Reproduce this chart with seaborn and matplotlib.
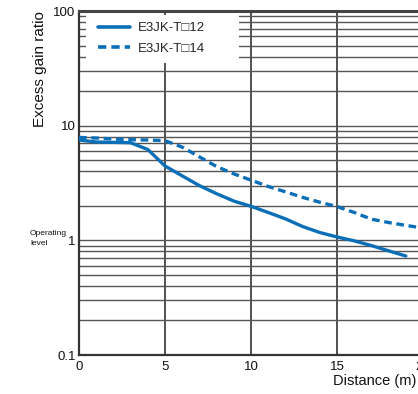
import matplotlib
matplotlib.use("Agg")
import matplotlib.pyplot as plt
import matplotlib.ticker as mticker
from matplotlib.patches import Rectangle
import seaborn as sns
import pandas as pd

# ---- data ----
series_names = ["E3JK-T\u25a112", "E3JK-T\u25a114"]
dist_12 = [0, 1, 2, 3, 4, 5, 6, 7, 8, 9, 10, 11, 12, 13, 14, 15, 16, 17, 18, 19]
gain_12 = [7.5, 7.2, 7.15, 7.1, 6.2, 4.45, 3.65, 3.0, 2.55, 2.2, 1.98, 1.75, 1.54,
           1.32, 1.17, 1.07, 0.99, 0.9, 0.81, 0.73]
dist_14 = [0, 1, 2, 3, 4, 5, 6, 7, 8, 9, 10, 11, 12, 13, 14, 15, 16, 17, 18, 19, 20, 21]
gain_14 = [7.9, 7.8, 7.65, 7.55, 7.5, 7.4, 6.5, 5.35, 4.4, 3.8, 3.35, 2.95, 2.65,
           2.37, 2.15, 1.97, 1.75, 1.53, 1.43, 1.35, 1.28, 1.22]
y_ticks = [0.1, 1, 10, 100]
y_tick_labels = ["0.1", "1", "10", "100"]
x_ticks = [0, 5, 10, 15, 20, 25]
x_tick_labels = ["0", "5", "10", "15", "20", "25"]

df = pd.concat([
    pd.DataFrame({"Distance": dist_12, "Gain": gain_12, "Series": series_names[0]}),
    pd.DataFrame({"Distance": dist_14, "Gain": gain_14, "Series": series_names[1]}),
], ignore_index=True)

sns.set_style("white")
plt.rcParams["font.family"] = ["Liberation Sans", "DejaVu Sans"]

W, H = 418, 394
fig = plt.figure(figsize=(W / 100, H / 100), dpi=100)
ax_left, ax_top, ax_bottom = 79, 11, 355
px_per_unit = 17.2
xmax = 25
ax = fig.add_axes([ax_left / W, (H - ax_bottom) / H,
                   xmax * px_per_unit / W, (ax_bottom - ax_top) / H])

blue = "#0b6fb8"
sns.lineplot(data=df, x="Distance", y="Gain", hue="Series", style="Series",
             palette=[blue, blue], dashes={series_names[0]: "", series_names[1]: (2.3, 1.4)},
             linewidth=2.4, ax=ax, zorder=3, legend="auto")

ax.set_yscale("log")
ax.set_ylim(0.1, 100)
ax.set_xlim(0, xmax)
ax.set_yticks(y_ticks)
ax.set_yticklabels(y_tick_labels)
ax.yaxis.set_minor_locator(mticker.LogLocator(base=10, subs=range(2, 10)))
ax.yaxis.set_minor_formatter(mticker.NullFormatter())
ax.set_xticks(x_ticks)
ax.set_xticklabels(x_tick_labels)
ax.tick_params(axis="both", which="both", length=0)
ax.tick_params(axis="y", pad=2.5, labelsize=9.5, colors="#111")
ax.tick_params(axis="x", pad=4.5, labelsize=9.5, colors="#111")
ax.set_xlabel("")
ax.set_ylabel("")

ax.set_axisbelow(True)
ax.grid(True, axis="y", which="both", color="#555555", linewidth=1.0)
ax.grid(True, axis="x", which="major", color="#222222", linewidth=1.1)

for side in ["left", "bottom"]:
    ax.spines[side].set_color("#333333")
    ax.spines[side].set_linewidth(1.6)
ax.spines["top"].set_color("#444444")
ax.spines["top"].set_linewidth(2.2)
ax.spines["right"].set_visible(False)

# white box behind legend
ax.add_patch(Rectangle((86 / W, 1 - 63 / H), (239 - 86) / W, (63 - 15) / H,
                       transform=fig.transFigure, facecolor="white",
                       edgecolor="none", zorder=2))

old = ax.get_legend()
handles = old.legend_handles
labels = [t.get_text() for t in old.texts]
old.remove()
for h in handles:
    h.set_linewidth(2.6)
leg = ax.legend(handles, labels, loc="upper left",
                bbox_to_anchor=(98 / W, 1 - 22 / H), bbox_transform=fig.transFigure,
                frameon=False, borderpad=0, borderaxespad=0, handlelength=2.4,
                handletextpad=0.6, labelspacing=0.62, fontsize=9.5)
leg.set_zorder(5)

fig.text(40 / W, 1 - 69 / H, "Excess gain ratio", rotation=90, ha="center",
         va="center", fontsize=11, color="#111")
fig.text(333 / W, 1 - 385 / H, "Distance (m)", ha="left", va="baseline",
         fontsize=10.5, color="#111")
fig.text(30 / W, 1 - 230 / H, "Operating\nlevel", ha="left", va="top",
         fontsize=6, linespacing=1.6, color="#111")

fig.savefig("out.png", dpi=100)
